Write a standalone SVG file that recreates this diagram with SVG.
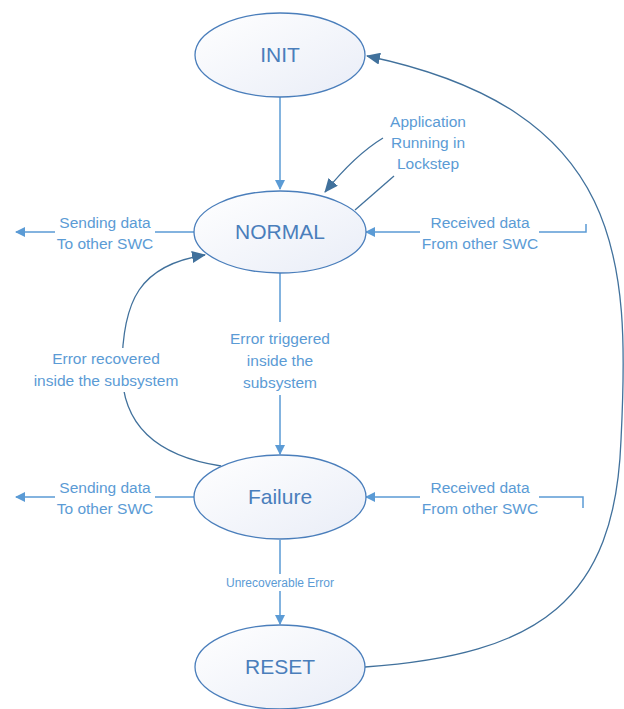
<svg xmlns="http://www.w3.org/2000/svg" width="624" height="709" viewBox="0 0 624 709">
<style>
.node{fill:url(#g);stroke:#4a7ebb;stroke-width:1.3}
.lbl{font-family:"Liberation Sans",Arial,sans-serif;font-size:21px;fill:#4a7ebb;text-anchor:middle}
.t{font-family:"Liberation Sans",Arial,sans-serif;font-size:15.5px;fill:#5b9bd5;text-anchor:middle}
.ts{font-family:"Liberation Sans",Arial,sans-serif;font-size:12px;fill:#5b9bd5;text-anchor:middle}
.l{fill:none;stroke:#5b9bd5;stroke-width:1.5}
.d{fill:none;stroke:#41719c;stroke-width:1.3}
</style>
<defs>
<linearGradient id="g" x1="0" y1="0" x2="1" y2="1">
<stop offset="0" stop-color="#ffffff"/>
<stop offset="1" stop-color="#e9edf7"/>
</linearGradient>
<marker id="a" markerWidth="10" markerHeight="10" refX="9" refY="5" orient="auto" markerUnits="userSpaceOnUse">
<path d="M0,0 L10,5 L0,10 Z" fill="#5b9bd5"/>
</marker>
<marker id="ad" markerWidth="14" markerHeight="12" refX="13" refY="6" orient="auto" markerUnits="userSpaceOnUse">
<path d="M0,0 L14,6 L0,12 Z" fill="#41719c"/>
</marker>
</defs>
<g id="connectors">
<path class="l" d="M280,97 L280,189" marker-end="url(#a)"/>
<path class="d" d="M383,138 Q355,155 325,192" marker-end="url(#ad)"/>
<path class="d" d="M394,176 L355,210"/>
<path class="l" d="M195,232 L155,232 M55,232 L16,232" marker-end="url(#a)"/>
<path class="l" d="M586,224 L586,232 L539,232 M420,232 L366,232" marker-end="url(#a)"/>
<path class="l" d="M280,273 L280,322 M280,395 L280,454" marker-end="url(#a)"/>
<path class="d" d="M221,466 C150,455 122,420 122,370 C122,300 140,265 205,255" marker-end="url(#ad)"/>
<path class="l" d="M195,497 L155,497 M55,497 L16,497" marker-end="url(#a)"/>
<path class="l" d="M583,508 L583,497 L539,497 M420,497 L366,497" marker-end="url(#a)"/>
<path class="l" d="M280,540 L280,574 M280,591 L280,624" marker-end="url(#a)"/>
<path class="d" d="M365,667 C540,655 615,600 621,440 C630,260 625,110 367,56" marker-end="url(#ad)"/>
</g>
<g id="init"><ellipse class="node" cx="280" cy="55" rx="85" ry="42"/><text class="lbl" x="280" y="62">INIT</text></g>
<g id="normal"><ellipse class="node" cx="280" cy="232" rx="86" ry="41"/><text class="lbl" x="280" y="239">NORMAL</text></g>
<g id="failure"><ellipse class="node" cx="280" cy="497" rx="86" ry="42"/><text class="lbl" x="280" y="504">Failure</text></g>
<g id="reset"><ellipse class="node" cx="280" cy="667" rx="85" ry="42"/><text class="lbl" x="280" y="674">RESET</text></g>
<g id="labels">
<text class="t" x="428" y="127">Application</text>
<text class="t" x="428" y="148">Running in</text>
<text class="t" x="428" y="169">Lockstep</text>
<text class="t" x="105" y="228">Sending data</text>
<text class="t" x="105" y="249">To other SWC</text>
<text class="t" x="480" y="228">Received data</text>
<text class="t" x="480" y="249">From other SWC</text>
<text class="t" x="280" y="344">Error triggered</text>
<text class="t" x="280" y="366">inside the</text>
<text class="t" x="280" y="388">subsystem</text>
<rect x="22" y="348" width="168" height="44" fill="#ffffff"/>
<text class="t" x="106" y="364">Error recovered</text>
<text class="t" x="106" y="386">inside the subsystem</text>
<text class="t" x="105" y="493">Sending data</text>
<text class="t" x="105" y="514">To other SWC</text>
<text class="t" x="480" y="493">Received data</text>
<text class="t" x="480" y="514">From other SWC</text>
<text class="ts" x="280" y="587">Unrecoverable Error</text>
</g>
</svg>
